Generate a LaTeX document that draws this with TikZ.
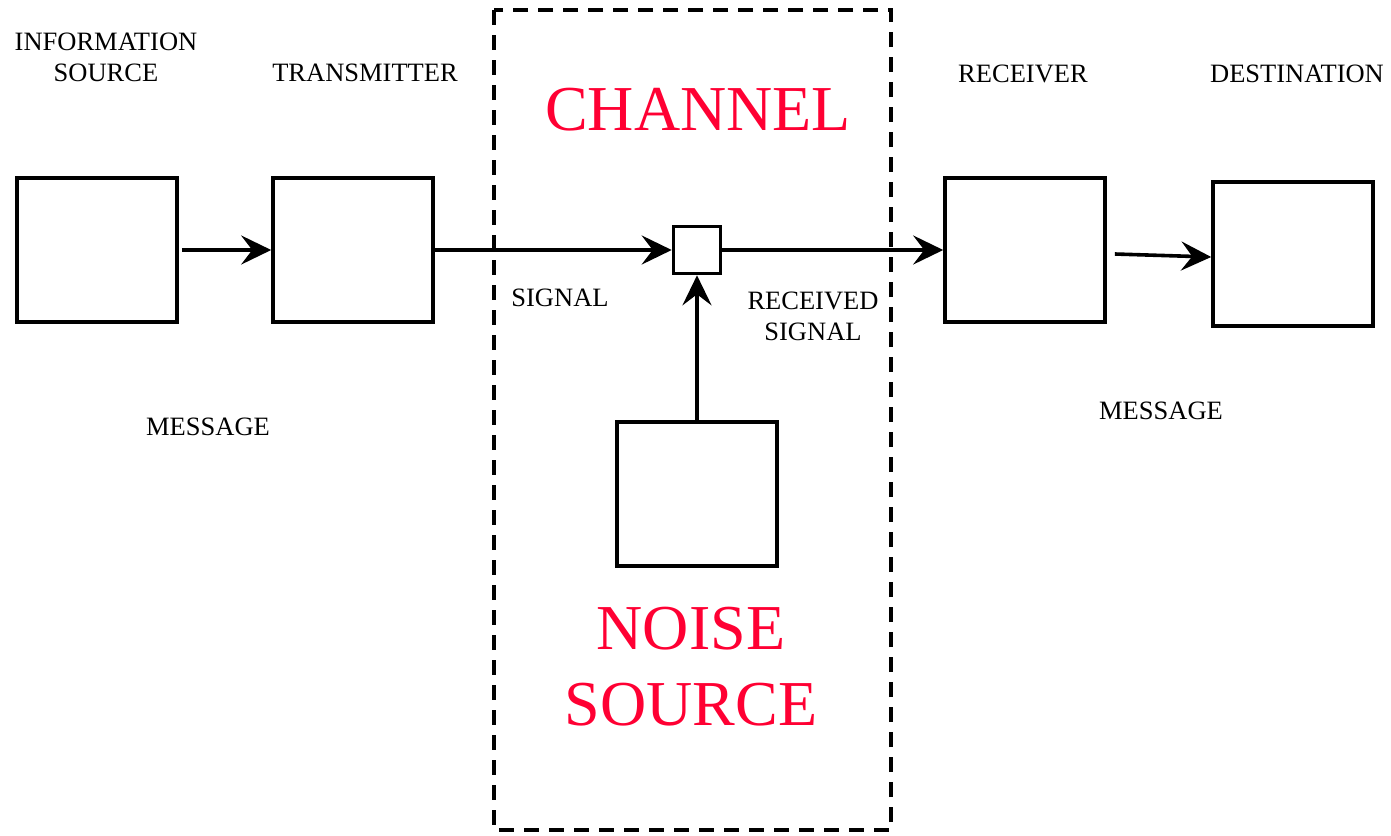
\documentclass[tikz,border=0pt]{standalone}
\usepackage{fontspec}
\setmainfont{Liberation Serif}
\usetikzlibrary{arrows.meta}
\definecolor{chred}{HTML}{FF0033}
\tikzset{
  box/.style={draw=black, line width=3.6pt, fill=white, minimum width=160pt, minimum height=144pt, inner sep=0pt},
  smallbox/.style={draw=black, line width=3.6pt, fill=white, minimum width=47pt, minimum height=47pt, inner sep=0pt},
  arr/.style={line width=3.6pt, -{Stealth[length=30pt,width=29pt,inset=11pt]}},
  lbl/.style={font=\fontsize{26.5}{31}\selectfont, align=center, inner sep=0pt, anchor=north},
  big/.style={font=\fontsize{64}{76}\selectfont, text=chred, align=center, inner sep=0pt, anchor=north},
  channelbox/.style={draw=black, line width=3.6pt, dash pattern=on 15pt off 10pt}
}
\begin{document}
\begin{tikzpicture}[x=1pt,y=-1pt]
\useasboundingbox (0,0) rectangle (1391,835);
\draw[channelbox] (494,10) rectangle (891,830);
\node[box] (src) at (97,250) {};
\node[box] (tx) at (353,250) {};
\node[smallbox] (sum) at (697,250) {};
\node[box] (noise) at (697,494) {};
\node[box] (rec) at (1025,250) {};
\node[box] (dst) at (1293,254) {};
\draw[arr, shorten <=3pt] (src.east) -- (tx.west);
\draw[arr] (tx.east) -- (tx.east -| sum.west);
\draw[arr] (sum.east) -- (sum.east -| rec.west);
\draw[arr] ([xshift=8pt,yshift=-4pt]rec.east) -- ([yshift=-3pt]dst.west);
\draw[arr] (noise.north -| sum.south) -- (sum.south);
\node[lbl] (t1) at (106,33) {INFORMATION\\SOURCE};
\node[lbl] (t2) at (365,64) {TRANSMITTER};
\node[lbl] (t3) at (1023,65) {RECEIVER};
\node[lbl] (t4) at (1297,65) {DESTINATION};
\node[lbl] (t5) at (560,289) {SIGNAL};
\node[lbl] (t6) at (813,292) {RECEIVED\\SIGNAL};
\node[lbl] (t7) at (208,418) {MESSAGE};
\node[lbl] (t8) at (1161,402) {MESSAGE};
\node[big] (t9) at (698,88) {CHANNEL};
\node[big] (t10) at (691,607) {NOISE\\SOURCE};
\end{tikzpicture}
\end{document}
